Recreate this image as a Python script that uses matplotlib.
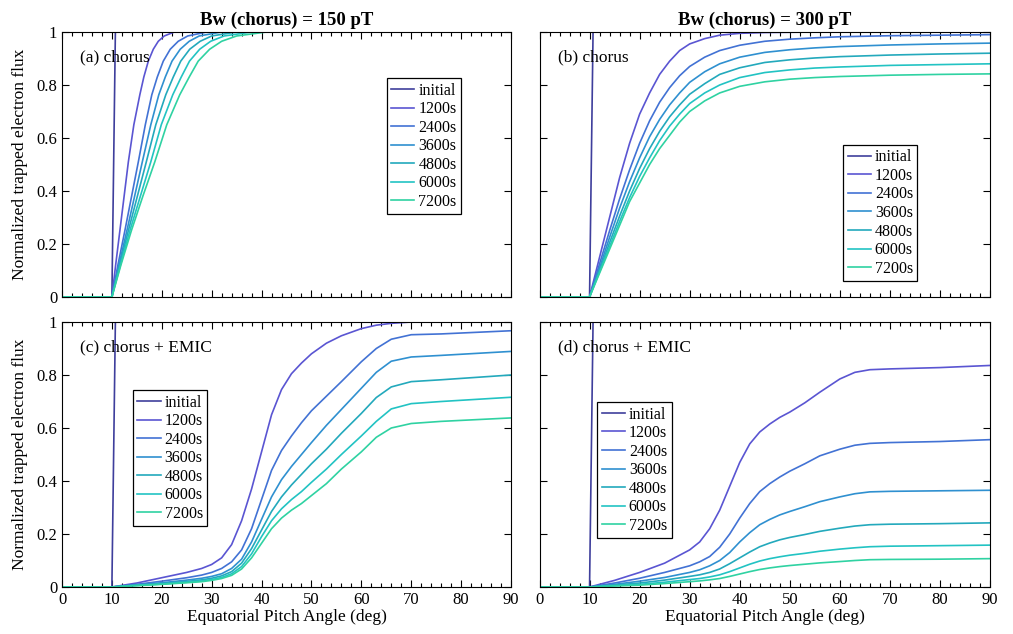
import matplotlib
matplotlib.use("Agg")
import matplotlib.pyplot as plt
from matplotlib.ticker import MultipleLocator, FuncFormatter

plt.rcParams['font.family'] = ['Liberation Serif', 'DejaVu Serif']

labels = ['initial', '1200s', '2400s', '3600s', '4800s', '6000s', '7200s']
colors = ['#3f3f9c', '#5a55d2', '#4272d4', '#2f90d0', '#23a9bc', '#22c3c3', '#2fd2a2']

init_x = [0, 10, 10.7, 90]
init_y = [0, 0, 1, 1]

# Panel (a): chorus, Bw = 150 pT -- pitch angle (deg) at which each curve reaches the flux levels
a_levels = [0, 0, 0.12, 0.25, 0.38, 0.51, 0.65, 0.763, 0.83, 0.89, 0.935, 0.965, 0.985, 1.0, 1.0]
a_x_1200 = [0, 10, 10.75, 11.6, 12.45, 13.3, 14.4, 15.6, 16.4, 17.3, 18.3, 19.3, 20.5, 22.5, 90]
a_x_2400 = [0, 10, 11.2, 12.6, 13.95, 15.3, 16.7, 18.0, 19.1, 20.3, 21.7, 23.3, 25.2, 29, 90]
a_x_3600 = [0, 10, 11.4, 13.0, 14.55, 16.1, 17.8, 19.4, 20.7, 22.05, 23.7, 25.5, 27.5, 32, 90]
a_x_4800 = [0, 10, 11.55, 13.3, 15.1, 16.9, 18.8, 20.8, 22.3, 23.8, 25.6, 27.7, 30, 35, 90]
a_x_6000 = [0, 10, 11.7, 13.6, 15.7, 17.8, 19.9, 22.2, 23.9, 25.55, 27.6, 29.8, 32.5, 38, 90]
a_x_7200 = [0, 10, 11.8, 13.9, 16.2, 18.6, 21.0, 23.6, 25.5, 27.3, 29.6, 32.0, 35, 41, 90]

# Panel (b): chorus, Bw = 300 pT
xb = [0, 10, 12, 14, 16, 18, 20, 22, 24, 26, 28, 30, 33, 36, 40, 45, 50, 55, 60, 70, 80, 90]
b_1200 = [0, 0, .15, .30, .45, .58, .69, .77, .84, .89, .93, .955, .975, .988, .995, .998, .999, 1, 1, 1, 1, 1]
b_2400 = [0, 0, .125, .25, .37, .48, .58, .665, .735, .79, .835, .87, .905, .93, .95, .965, .973, .978, .982, .986, .988, .99]
b_3600 = [0, 0, .11, .225, .335, .435, .525, .605, .67, .725, .77, .81, .85, .88, .905, .923, .933, .94, .945, .951, .955, .958]
b_4800 = [0, 0, .10, .205, .305, .40, .485, .56, .625, .68, .725, .765, .805, .84, .865, .885, .895, .902, .907, .913, .917, .92]
b_6000 = [0, 0, .095, .19, .285, .375, .455, .525, .59, .645, .69, .73, .77, .80, .828, .847, .857, .864, .868, .874, .877, .88]
b_7200 = [0, 0, .09, .18, .27, .36, .43, .50, .56, .61, .66, .70, .74, .77, .795, .812, .822, .828, .832, .837, .840, .842]

# Panel (c): chorus + EMIC, Bw = 150 pT
xc = [0, 10, 15, 20, 25, 28, 30, 32, 34, 36, 38, 40, 42, 44, 46, 48, 50, 53, 56, 60, 63, 66, 70, 76, 90]
c_1200 = [0, 0, .015, .035, .055, .07, .085, .11, .16, .25, .37, .51, .65, .745, .805, .845, .88, .92, .948, .975, .988, .995, 1, 1, 1]
c_2400 = [0, 0, .01, .022, .035, .045, .055, .07, .095, .14, .22, .33, .44, .515, .57, .62, .665, .72, .775, .85, .90, .935, .952, .955, .967]
c_3600 = [0, 0, .008, .016, .026, .033, .04, .05, .07, .105, .17, .255, .34, .405, .455, .50, .545, .61, .67, .75, .81, .852, .868, .874, .889]
c_4800 = [0, 0, .007, .013, .021, .027, .033, .042, .058, .09, .145, .215, .285, .34, .385, .425, .465, .52, .58, .655, .715, .755, .775, .782, .80]
c_6000 = [0, 0, .006, .011, .018, .023, .028, .036, .05, .077, .125, .19, .25, .295, .33, .36, .395, .445, .50, .57, .625, .672, .692, .70, .716]
c_7200 = [0, 0, .005, .01, .016, .02, .025, .032, .044, .068, .11, .165, .22, .26, .29, .315, .345, .39, .445, .51, .565, .60, .617, .625, .638]

# Panel (d): chorus + EMIC, Bw = 300 pT
xd = [0, 10, 15, 20, 25, 30, 32, 34, 36, 38, 40, 42, 44, 46, 48, 50, 53, 56, 60, 63, 66, 70, 80, 90]
d_1200 = [0, 0, .025, .055, .09, .14, .17, .22, .29, .38, .47, .54, .585, .615, .64, .66, .695, .735, .785, .81, .82, .823, .828, .836]
d_2400 = [0, 0, .015, .033, .055, .08, .095, .115, .15, .20, .26, .315, .36, .39, .415, .437, .465, .495, .52, .535, .542, .545, .549, .556]
d_3600 = [0, 0, .01, .022, .036, .055, .065, .08, .10, .13, .17, .205, .235, .255, .272, .285, .303, .322, .34, .352, .359, .361, .363, .365]
d_4800 = [0, 0, .007, .015, .026, .04, .046, .055, .068, .088, .11, .132, .152, .166, .178, .187, .198, .21, .222, .23, .235, .237, .239, .242]
d_6000 = [0, 0, .005, .01, .018, .028, .032, .038, .046, .058, .072, .086, .098, .107, .114, .12, .127, .135, .143, .148, .152, .154, .156, .158]
d_7200 = [0, 0, .004, .007, .013, .02, .023, .027, .032, .04, .049, .058, .066, .072, .077, .081, .086, .091, .096, .10, .103, .104, .105, .107]

panels = [
    dict(xs=[a_x_1200, a_x_2400, a_x_3600, a_x_4800, a_x_6000, a_x_7200], ys=[a_levels] * 6,
         tag='(a) chorus', rect=[62/1013, 1-297/634, 449/1013, 265/634], leg=(0.723, 0.826)),
    dict(xs=[xb] * 6, ys=[b_1200, b_2400, b_3600, b_4800, b_6000, b_7200], tag='(b) chorus',
         rect=[539.5/1013, 1-297/634, 450.5/1013, 265/634], leg=(0.674, 0.574)),
    dict(xs=[xc] * 6, ys=[c_1200, c_2400, c_3600, c_4800, c_6000, c_7200], tag='(c) chorus + EMIC',
         rect=[62/1013, 1-587/634, 449/1013, 265/634], leg=(0.158, 0.743)),
    dict(xs=[xd] * 6, ys=[d_1200, d_2400, d_3600, d_4800, d_6000, d_7200], tag='(d) chorus + EMIC',
         rect=[539.5/1013, 1-587/634, 450.5/1013, 265/634], leg=(0.128, 0.698)),
]

fig = plt.figure(figsize=(10.13, 6.34), dpi=100)
fmt = FuncFormatter(lambda v, p: ('%g' % round(v, 2)))

for i, p in enumerate(panels):
    ax = fig.add_axes(p['rect'])
    ax.plot(init_x, init_y, color=colors[0], lw=1.2, label=labels[0])
    for k, (x, y) in enumerate(zip(p['xs'], p['ys'])):
        ax.plot(x, y, color=colors[k+1], lw=1.2, label=labels[k+1])
    ax.set_xlim(0, 90)
    ax.set_ylim(0, 1)
    ax.xaxis.set_major_locator(MultipleLocator(10))
    ax.xaxis.set_minor_locator(MultipleLocator(2))
    ax.yaxis.set_major_locator(MultipleLocator(0.2))
    ax.yaxis.set_major_formatter(fmt)
    ax.tick_params(which='both', direction='in', top=True, right=True, labelsize=12)
    ax.tick_params(which='major', length=5, width=0.8)
    ax.tick_params(which='minor', length=3, width=0.8)
    for s in ax.spines.values():
        s.set_linewidth(0.8)
    if i % 2 == 1:
        ax.set_yticklabels([])
    else:
        ax.set_ylabel('Normalized trapped electron flux', fontsize=12.5, labelpad=6)
    if i < 2:
        ax.set_xticklabels([])
    else:
        ax.set_xlabel('Equatorial Pitch Angle (deg)', fontsize=12.5, labelpad=1)
    ax.text(0.04, 0.905, p['tag'], transform=ax.transAxes, fontsize=12.5, va='center', ha='left')
    leg = ax.legend(loc='upper left', bbox_to_anchor=p['leg'], fontsize=11.5, frameon=True,
                    fancybox=False, edgecolor='black', framealpha=1, handlelength=1.45,
                    handletextpad=0.25, borderpad=0.28, labelspacing=0.16, borderaxespad=0)
    leg.get_frame().set_linewidth(0.9)
    if i == 0:
        ax.set_title('Bw (chorus) = 150 pT', fontsize=13.5, fontweight='bold', pad=5)
    if i == 1:
        ax.set_title('Bw (chorus) = 300 pT', fontsize=13.5, fontweight='bold', pad=5)

fig.savefig('out.png', dpi=100)
